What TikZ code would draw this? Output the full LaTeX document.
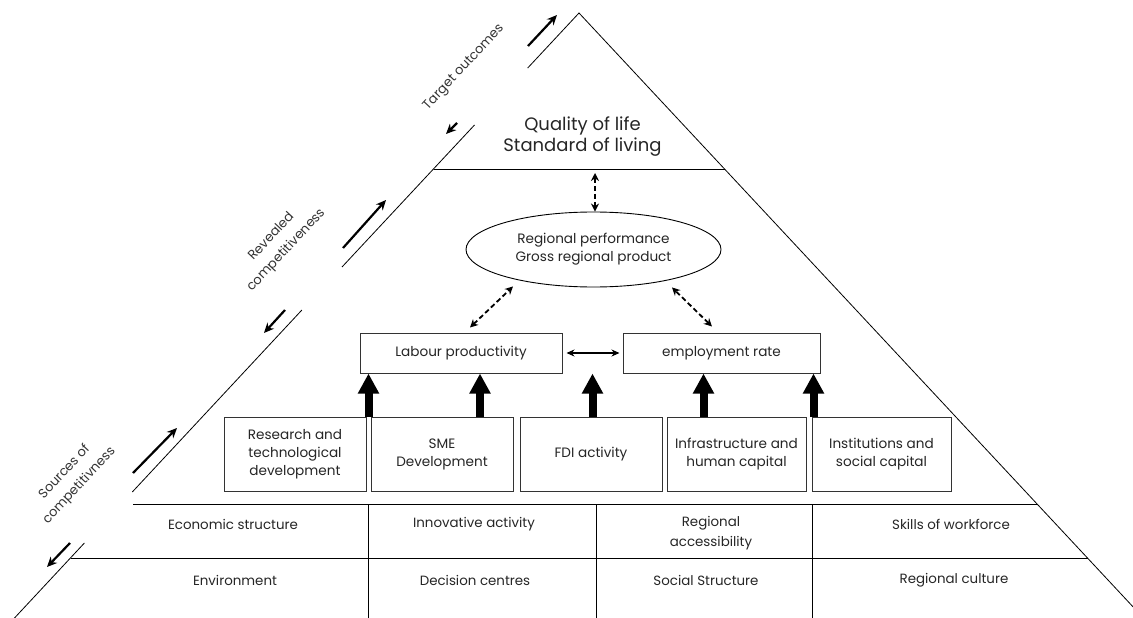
\documentclass[tikz,border=0pt]{standalone}
\usepackage{fontspec}
\setmainfont{Poppins}
\usetikzlibrary{arrows.meta,shapes.geometric,calc}
\begin{document}
\begin{tikzpicture}[x=1pt,y=-1pt,
  edge/.style={line width=0.8pt,draw=black},
  box/.style={draw=black!80,line width=1pt,align=center,inner sep=1pt,
    font=\fontsize{13.6}{18}\selectfont,text=black!85},
  fat/.style={line width=8pt,-{Triangle[length=20pt,width=20pt]}},
  darr/.style={line width=1.8pt,dash pattern=on 5pt off 3pt,
    {Stealth[length=8pt,width=8pt]}-{Stealth[length=8pt,width=8pt]}},
  harr/.style={line width=1.6pt,{Stealth[length=8pt,width=7pt]}-{Stealth[length=8pt,width=7pt]}},
  sarr/.style={line width=2.2pt,-{Stealth[length=10pt,width=9pt]}},
  lbl/.style={font=\fontsize{13}{20}\selectfont,text=black!80,align=center,rotate=47,inner sep=0pt},
  cell/.style={font=\fontsize{13.4}{20}\selectfont,text=black!85,align=center},
  big/.style={font=\fontsize{18}{21}\selectfont,text=black!85,align=center}
]
\useasboundingbox (0,0) rectangle (1133,618);
\clip (0,0) rectangle (1133,618);
\fill[white] (0,0) rectangle (1133,618);

% triangle edges
\draw[edge] (527.7,68) -- (579,13) -- (1133,606.8);
\draw[edge] (474.5,125) -- (342,267);
\draw[edge] (301.9,310) -- (132.3,492);
\draw[edge] (84.4,543) -- (14.5,618);

% horizontal divisions
\draw[edge] (433.5,169) -- (724.5,169);
\draw[edge] (133,504) -- (1037,504);
\draw[edge] (70.5,558) -- (1087.5,558);
\foreach \x in {368,596,812} \draw[edge] (\x,504) -- (\x,618);

% side arrows
\draw[sarr] (528,46) -- (557,15);
\draw[sarr] (457,123) -- (446,134);
\draw[sarr] (343,248) -- (386,200);
\draw[sarr] (285,310) -- (264,333);
\draw[sarr] (133,473) -- (177,428);
\draw[sarr] (70,543) -- (47,567);

% side labels
\node[lbl] (tgt) at (464,67.5) {Target outcomes};
\node[lbl] (rev) at (279,243.5) {Revealed\\competitiveness};
\node[lbl] (src) at (72,479) {Sources of\\competitivness};

% top
\node[big] (qol) at (582.5,137) {Quality of life\\Standard of living};

% ellipse
\node[draw=black,line width=0.9pt,ellipse,minimum width=255pt,minimum height=75pt,inner sep=0pt,
  font=\fontsize{13.6}{18}\selectfont,text=black!85,align=center] (ell) at (593.5,249.5)
  {Regional performance\\Gross regional product};

% middle boxes
\node[box,minimum width=202pt,minimum height=40pt] (lab) at (461,353) {Labour productivity};
\node[box,minimum width=197pt,minimum height=40pt] (emp) at (721.5,353) {employment rate};

% lower boxes
\node[box,minimum width=142pt,minimum height=74pt] (rtd) at (295,454) {Research and\\technological\\development};
\node[box,minimum width=142pt,minimum height=74pt] (sme) at (442,454) {SME\\Development};
\node[box,minimum width=142pt,minimum height=74pt] (fdi) at (591,454) {FDI activity};
\node[box,minimum width=139pt,minimum height=74pt] (inf) at (736.5,454) {Infrastructure and\\human capital};
\node[box,minimum width=139pt,minimum height=74pt] (ins) at (881.5,454) {Institutions and\\social capital};

% connectors
\draw[harr] ($(lab.east)+(4,0)$) -- ($(emp.west)+(-3,0)$);
\coordinate (qtop) at (595,173);
\draw[darr] (qtop) -- (qtop |- ell.north);
\draw[darr] ($(lab.north)+(9,-5)$) -- ($(ell.south)+(-80.5,-1)$);
\draw[darr] ($(emp.north)+(-9.5,-6)$) -- ($(ell.south)+(78.5,0)$);

\coordinate (g1) at ($(rtd.north east)!0.5!(sme.north west)$);
\coordinate (g2) at ($(sme.north)+(38,0)$);
\coordinate (g3) at ($(fdi.north)+(1.5,0)$);
\coordinate (g4) at ($(inf.north)+(-33,0)$);
\coordinate (g5) at ($(ins.north west)+(2,0)$);
\draw[fat] (g1) -- (g1 |- lab.south);
\draw[fat] (g2) -- (g2 |- lab.south);
\draw[fat] (g3) -- (g3 |- lab.south);
\draw[fat] (g4) -- (g4 |- emp.south);
\draw[fat] (g5) -- (g5 |- emp.south);

% table text
\node[cell] (c11) at (233,524) {Economic structure};
\node[cell] (c12) at (474,524) {Innovative activity};
\node[cell] (c13) at (711,533) {Regional\\accessibility};
\node[cell] (c14) at (951,524) {Skills of workforce};
\node[cell] (c21) at (235,580) {Environment};
\node[cell] (c22) at (475,580) {Decision centres};
\node[cell] (c23) at (706,580) {Social Structure};
\node[cell] (c24) at (954,580) {Regional culture};
\end{tikzpicture}
\end{document}
